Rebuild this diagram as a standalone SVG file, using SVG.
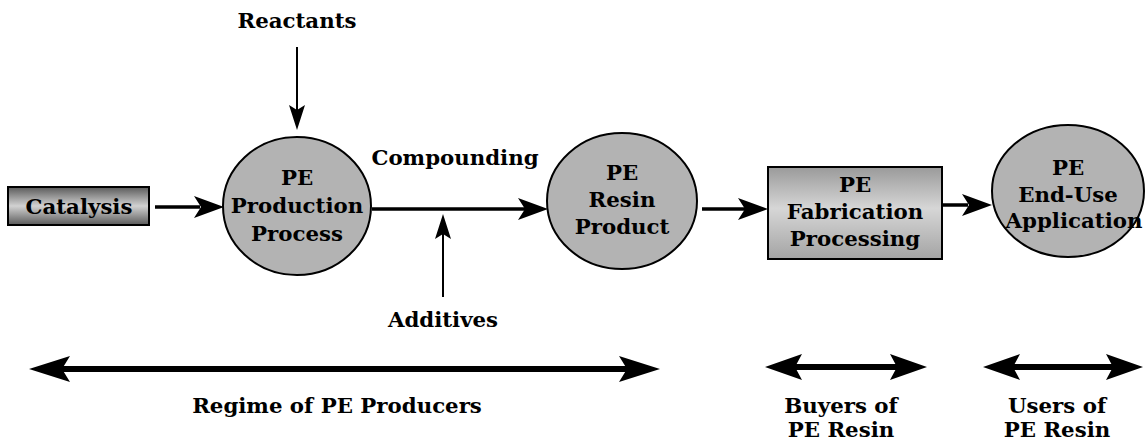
<svg xmlns="http://www.w3.org/2000/svg" width="1146" height="441" viewBox="0 0 1146 441">
<style>
text{font-family:"DejaVu Serif","Liberation Serif",serif;font-weight:bold;fill:#000;text-anchor:middle;font-size:21.3px}
.node{fill:#b3b3b3;stroke:#000;stroke-width:2}
.thin{stroke:#000;stroke-width:2;fill:none}
.thick{stroke:#000;stroke-width:3.5;fill:none}
.span{stroke:#000;stroke-width:6;fill:none}
.head{fill:#000}
</style>
<defs>
<linearGradient id="gCat" x1="0" y1="0" x2="0" y2="1">
<stop offset="0" stop-color="#5a5a5a"/>
<stop offset="0.5" stop-color="#d2d2d2"/>
<stop offset="1" stop-color="#5a5a5a"/>
</linearGradient>
<linearGradient id="gFab" x1="0" y1="0" x2="0" y2="1">
<stop offset="0" stop-color="#9a9a9a"/>
<stop offset="0.45" stop-color="#d6d6d6"/>
<stop offset="1" stop-color="#a4a4a4"/>
</linearGradient>
</defs>

<g id="connectors">
<line class="thick" x1="155" y1="207" x2="200" y2="207"/>
<path class="head" d="M224,207 L194,196 L201,207 L194,218 Z"/>
<line class="thin" x1="297" y1="47" x2="297" y2="112"/>
<path class="head" d="M297,130 L289,105 L297,110 L305,105 Z"/>
<line class="thick" x1="372" y1="209" x2="525" y2="209"/>
<path class="head" d="M548,209 L518,198 L525,209 L518,220 Z"/>
<line class="thin" x1="443" y1="297" x2="443" y2="232"/>
<path class="head" d="M443,214 L435,239 L443,234 L451,239 Z"/>
<line class="thick" x1="702" y1="209" x2="745" y2="209"/>
<path class="head" d="M768,209 L738,198 L745,209 L738,220 Z"/>
<line class="thick" x1="942" y1="205" x2="968" y2="205"/>
<path class="head" d="M992,205 L962,194 L969,205 L962,216 Z"/>
<g id="span-producers">
<line class="span" x1="60" y1="369" x2="630" y2="369"/>
<path class="head" d="M29,369 L70,356 L62,369 L70,382 Z"/>
<path class="head" d="M660,369 L619,356 L627,369 L619,382 Z"/>
</g>
<g id="span-buyers">
<line class="span" x1="790" y1="367" x2="902" y2="367"/>
<path class="head" d="M765,367 L802,354 L795,367 L802,380 Z"/>
<path class="head" d="M927,367 L890,354 L897,367 L890,380 Z"/>
</g>
<g id="span-users">
<line class="span" x1="1008" y1="367" x2="1118" y2="367"/>
<path class="head" d="M983,367 L1020,354 L1013,367 L1020,380 Z"/>
<path class="head" d="M1143,367 L1106,354 L1113,367 L1106,380 Z"/>
</g>
</g>

<g id="catalysis">
<rect x="8" y="187" width="141" height="38" fill="url(#gCat)" stroke="#000" stroke-width="2"/>
<text x="79" y="214">Catalysis</text>
</g>
<g id="reactants"><text x="297" y="28">Reactants</text></g>
<g id="production">
<ellipse class="node" cx="297" cy="206" rx="74" ry="69"/>
<text x="297" y="185">PE</text>
<text x="297" y="213">Production</text>
<text x="297" y="241">Process</text>
</g>
<g id="compounding"><text x="455" y="165">Compounding</text></g>
<g id="additives"><text x="443" y="327">Additives</text></g>
<g id="resin">
<ellipse class="node" cx="622" cy="201" rx="75" ry="68"/>
<text x="622" y="180">PE</text>
<text x="622" y="207">Resin</text>
<text x="622" y="234">Product</text>
</g>
<g id="fabrication">
<rect x="768" y="167" width="174" height="92" fill="url(#gFab)" stroke="#000" stroke-width="2"/>
<text x="855" y="192">PE</text>
<text x="855" y="219">Fabrication</text>
<text x="855" y="246">Processing</text>
</g>
<g id="enduse">
<ellipse class="node" cx="1068" cy="191" rx="76" ry="66"/>
<text x="1068" y="175">PE</text>
<text x="1068" y="202">End-Use</text>
<text x="1074" y="228">Application</text>
</g>
<g id="label-producers"><text x="337" y="413">Regime of PE Producers</text></g>
<g id="label-buyers"><text x="841" y="413">Buyers of</text><text x="841" y="437">PE Resin</text></g>
<g id="label-users"><text x="1057" y="413">Users of</text><text x="1057" y="437">PE Resin</text></g>
</svg>
